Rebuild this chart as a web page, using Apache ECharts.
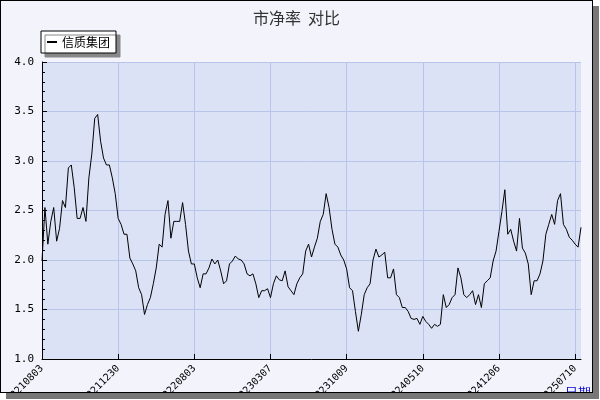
<!DOCTYPE html>
<html><head><meta charset="utf-8">
<script src="https://cdn.jsdelivr.net/npm/echarts@6/dist/echarts.min.js"></script>
<style>
body{margin:0;background:#fff;}
#wrap{position:absolute;left:0;top:0;width:591px;height:391px;border:1px solid #000;background:#f2f3fb;box-shadow:6px 6px 0 #777;}
#c{width:591px;height:391px;}
</style></head><body>
<div id="wrap"><div id="c"></div></div>
<script>
const tickLabels=['20210803','20211230','20220803','20230307','20231009','20240510','20241206','20250710'];
const values=[1.99,2.53,2.16,2.39,2.53,2.19,2.32,2.60,2.53,2.93,2.96,2.73,2.42,2.42,2.53,2.39,2.83,3.07,3.43,3.47,3.2,3.03,2.96,2.96,2.83,2.67,2.42,2.36,2.26,2.26,2.02,1.96,1.89,1.72,1.65,1.45,1.55,1.62,1.76,1.92,2.16,2.13,2.46,
2.6,2.22,2.39,2.39,2.39,2.58,2.36,2.09,1.96,1.96,1.82,1.72,1.86,1.86,1.92,2.01,1.96,2.0,1.89,1.76,1.79,1.96,1.99,2.04,2.01,2.0,1.96,1.86,1.84,1.86,1.76,1.62,1.69,1.69,1.71,1.62,1.76,1.84,
1.8,1.79,1.89,1.73,1.69,1.65,1.76,1.82,1.86,2.09,2.16,2.03,2.13,2.22,2.39,2.46,2.67,2.53,2.31,2.16,2.13,2.05,2.0,1.91,1.72,1.69,1.48,1.28,1.45,1.65,1.72,1.76,2.0,2.11,2.03,2.05,2.08,1.82,1.82,1.91,1.65,1.62,1.52,1.52,1.48,1.41,1.40,
1.41,1.35,1.43,1.38,1.35,1.31,1.35,1.33,1.35,1.65,1.52,1.55,1.62,1.65,1.92,1.82,1.65,1.62,1.65,1.69,1.55,1.65,1.52,1.76,1.79,1.82,1.99,2.09,2.29,2.49,2.71,2.26,2.31,2.19,2.09,2.42,2.12,2.07,1.96,1.65,1.79,1.79,1.86,1.99,2.26,2.36,2.46,2.36,2.6,2.67,2.36,2.31,2.23,2.2,2.16,2.13,2.33];
const step=26;
const cats=values.map((v,i)=>i);
const chart=echarts.init(document.getElementById('c'));
chart.setOption({
 animation:false,
 title:{text:'市净率  对比',left:'center',top:4,textStyle:{fontSize:16,fontWeight:'normal',color:'#333',fontFamily:'Noto Sans CJK SC'}},
 legend:{left:40,top:30,itemWidth:10,itemHeight:2,backgroundColor:'#fff',borderColor:'#000',borderWidth:1,padding:[5,6],
   shadowColor:'#888',shadowOffsetX:4,shadowOffsetY:4,shadowBlur:0,icon:'rect',
   textStyle:{fontSize:12,color:'#000',fontFamily:'Noto Sans CJK SC'},data:['信质集团']},
 grid:{left:41,right:11,top:61,bottom:33,show:true,backgroundColor:'#dce2f6',borderWidth:0,containLabel:false,outerBoundsMode:'none'},
 xAxis:{type:'category',data:cats,boundaryGap:false,
   name:'日期',nameLocation:'end',nameGap:-28,nameTextStyle:{color:'#0000cc',fontSize:13,verticalAlign:'top',padding:[28,0,0,0]},
   axisLine:{lineStyle:{color:'#000'}},
   axisTick:{interval:(i)=>i%step===0,length:5,inside:true,lineStyle:{color:'#000'}},
   splitLine:{show:true,interval:(i)=>i%step===0,lineStyle:{color:'#b8c4ea'}},
   axisLabel:{interval:(i)=>i%step===0,rotate:45,fontSize:10,color:'#000',fontFamily:'DejaVu Sans Mono',
     formatter:(v,i)=>tickLabels[Math.round(i/step)]||''}},
 yAxis:{type:'value',min:1,max:4,interval:0.5,
   axisLine:{show:true,lineStyle:{color:'#000'}},
   axisTick:{show:true,inside:true,length:5,lineStyle:{color:'#000'}},
   minorTick:{show:true,splitNumber:5,length:3,lineStyle:{color:'#000'}},
   splitLine:{lineStyle:{color:'#b8c4ea'}},
   axisLabel:{formatter:v=>v.toFixed(1),fontSize:11,color:'#000',fontFamily:'DejaVu Sans Mono'}},
 series:[{name:'信质集团',type:'line',data:values,showSymbol:false,lineStyle:{color:'#000',width:1},itemStyle:{color:'#000'}}]
});
</script></body></html>
